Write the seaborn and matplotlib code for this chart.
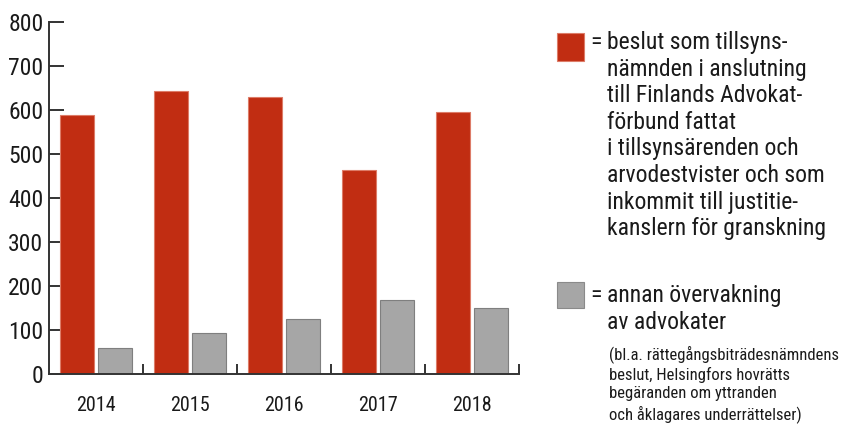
import pandas as pd
import numpy as np
import seaborn as sns
import matplotlib
matplotlib.use('Agg')
import matplotlib.pyplot as plt
from matplotlib import font_manager
from matplotlib.patches import Rectangle

### DATA
years = ['2014', '2015', '2016', '2017', '2018']
beslut = [589, 643, 629, 463, 595]
annan = [58, 94, 126, 168, 151]
y_ticks = [0, 100, 200, 300, 400, 500, 600, 700, 800]

label_red = ("beslut som tillsyns-\nnämnden i anslutning\ntill Finlands Advokat-\n"
             "förbund fattat\ni tillsynsärenden och\narvodestvister och som\n"
             "inkommit till justitie-\nkanslern för granskning")
label_gray = "annan övervakning\nav advokater"
note_gray = ("(bl.a. rättegångsbiträdesnämndens\nbeslut, Helsingfors hovrätts\n"
             "begäranden om yttranden\noch åklagares underrättelser)")

red = '#c12d12'
gray = '#a6a6a6'
ink = '#1a1a1a'

df = pd.DataFrame({
    'year': years * 2,
    'antal': beslut + annan,
    'typ': ['beslut'] * len(years) + ['annan'] * len(years),
})

### FONT (condensed if we have one)
names = {f.name for f in font_manager.fontManager.ttflist}
fam = 'Roboto'
for cand in ['Liberation Sans Narrow', 'DejaVu Sans Condensed', 'Roboto Condensed']:
    if cand in names:
        fam = cand
        break

sns.set_style('white')
plt.rcParams['font.family'] = [fam, 'DejaVu Sans']

fig = plt.figure(figsize=(8.48, 4.26), dpi=100)
ax = fig.add_axes([49 / 848, 1 - 374 / 426, 470 / 848, 352 / 426])

sns.barplot(data=df, x='year', y='antal', hue='typ', palette=[red, gray],
            saturation=1, width=0.8, gap=0.1, legend=False, ax=ax)

# edges: light on red, darker on gray (first 5 patches are the red series)
for i, p in enumerate(ax.patches):
    p.set_edgecolor('#dd7c68' if i < len(years) else '#7f7f7f')
    p.set_linewidth(0.8)

ax.set_xlim(-0.5, 4.5)
ax.set_ylim(0, 800)
ax.set_yticks(y_ticks)
ax.set_xlabel('')
ax.set_ylabel('')

sns.despine(ax=ax)
for s in ['left', 'bottom']:
    ax.spines[s].set_color('#333333')
    ax.spines[s].set_linewidth(1.4)

ax.tick_params(axis='y', direction='in', length=11, width=1.4, color='#333333',
               labelsize=17, labelcolor=ink, pad=4, left=True)
ax.tick_params(axis='x', which='major', length=0, labelsize=14.5, labelcolor=ink, pad=16)
ax.set_xticks(np.arange(0.5, 5, 1), minor=True)
ax.tick_params(axis='x', which='minor', direction='in', length=7, width=1.4,
               color='#333333', bottom=True)

### LEGEND (drawn by hand)
W, H = 848, 426
fig.patches.append(Rectangle((557 / W, 1 - 61 / H), 27 / W, 28 / H,
                             transform=fig.transFigure, facecolor=red,
                             edgecolor='#dd7c68', lw=0.8))
fig.patches.append(Rectangle((557 / W, 1 - 308 / H), 27 / W, 26 / H,
                             transform=fig.transFigure, facecolor=gray,
                             edgecolor='#8a8a8a', lw=0.8))

fig.text(590 / W, 1 - 31 / H, '=', fontsize=17, color=ink, va='top')
fig.text(607 / W, 1 - 31 / H, label_red, fontsize=17, color=ink, va='top',
         linespacing=1.2)
fig.text(590 / W, 1 - 284 / H, '=', fontsize=17, color=ink, va='top')
fig.text(607 / W, 1 - 284 / H, label_gray, fontsize=17, color=ink, va='top',
         linespacing=1.2)
fig.text(609 / W, 1 - 345 / H, note_gray, fontsize=12, color=ink, va='top',
         linespacing=1.3)

plt.savefig('out.png', dpi=100)
